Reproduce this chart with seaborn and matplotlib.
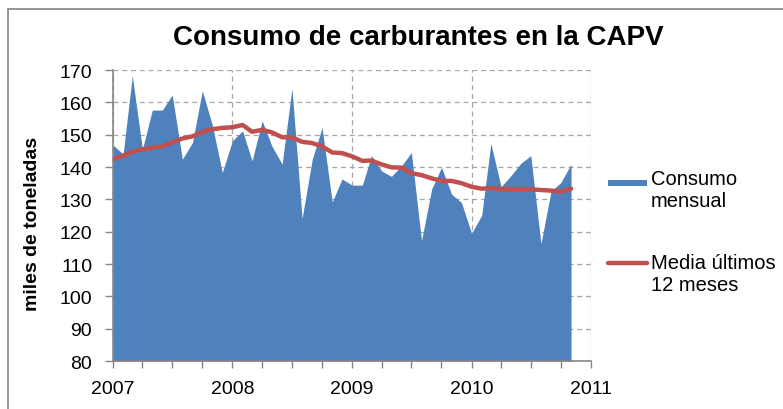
import numpy as np
import pandas as pd
import matplotlib
matplotlib.use("Agg")
import matplotlib.pyplot as plt
import matplotlib.dates as mdates
from matplotlib.legend_handler import HandlerPatch, HandlerLine2D
from matplotlib.lines import Line2D
import seaborn as sns

# ---- datos (miles de toneladas), ene 2007 - nov 2010 ----
meses = pd.date_range("2007-01-01", periods=47, freq="MS")

consumo_mensual = [
    146.8, 144.0, 168.2, 145.5, 157.6, 157.6, 162.3, 142.4, 147.6, 163.6, 152.8, 138.3,
    148.1, 151.2, 141.9, 154.3, 146.4, 140.9, 164.3, 124.1, 142.4, 152.2, 129.2, 136.3,
    134.4, 134.4, 143.5, 138.8, 137.1, 140.4, 144.5, 117.2, 133.2, 139.9, 131.6, 129.0,
    119.5, 125.1, 147.3, 133.9, 137.3, 141.2, 143.5, 116.3, 132.6, 135.2, 140.9,
]

media_12_meses = [
    142.4, 143.5, 144.7, 145.5, 146.0, 146.4, 147.6, 148.8, 149.5, 150.9, 151.7, 152.1,
    152.3, 153.0, 150.9, 151.5, 150.7, 149.2, 149.2, 147.8, 147.4, 146.4, 144.5, 144.3,
    143.3, 141.9, 142.0, 140.8, 139.9, 139.8, 138.1, 137.5, 136.5, 135.7, 135.7, 135.0,
    133.9, 133.3, 133.5, 133.2, 133.2, 133.2, 133.1, 132.9, 132.7, 132.4, 133.3,
]

df = pd.DataFrame({"fecha": meses, "consumo": consumo_mensual, "media": media_12_meses})

sns.set_theme(style="white")
plt.rcParams["font.family"] = ["Liberation Sans", "DejaVu Sans"]
plt.rcParams["text.color"] = "black"
plt.rcParams["axes.labelcolor"] = "black"

AZUL = "#4f81bd"
ROJO = "#c0504d"

fig = plt.figure(figsize=(7.83, 4.10), dpi=100)
ax = fig.add_axes([0.1443, 0.117, 0.6105, 0.7098])

# marco del gráfico (recortado a la derecha y abajo, como en la captura)
fig.add_artist(Line2D([8 / 783, 1], [1 - 10 / 410] * 2, transform=fig.transFigure,
                      color="#8c8c8c", lw=1.3))
fig.add_artist(Line2D([8 / 783] * 2, [0, 1 - 10 / 410], transform=fig.transFigure,
                      color="#8c8c8c", lw=1.3))

y_min = 80
ax.fill_between(df["fecha"], df["consumo"], y_min, color=AZUL, lw=0,
                label="Consumo\nmensual", zorder=2)
sns.lineplot(data=df, x="fecha", y="media", ax=ax, color=ROJO, lw=3.2,
             label="Media últimos\n12 meses", zorder=3)

ax.set_xlim(pd.Timestamp("2007-01-01"), pd.Timestamp("2011-01-01"))
ax.set_ylim(80, 170)
ax.set_yticks(range(80, 171, 10))
ax.xaxis.set_major_locator(mdates.YearLocator())
ax.xaxis.set_major_formatter(mdates.DateFormatter("%Y"))
ax.xaxis.set_minor_locator(mdates.MonthLocator(bymonth=[1, 4, 7, 10]))

ax.grid(True, which="major", color="#a6a6a6", ls=(0, (4, 3)), lw=0.9, zorder=0)
ax.tick_params(axis="both", which="both", direction="out", color="#868686",
               labelsize=14, labelcolor="black")
ax.tick_params(axis="x", which="major", length=5, width=1, pad=9)
ax.tick_params(axis="x", which="minor", length=5, width=1)
ax.tick_params(axis="y", length=6, width=1, pad=9)
ax.xaxis.set_ticks_position("bottom")
ax.yaxis.set_ticks_position("left")

for side in ["top", "right"]:
    ax.spines[side].set_visible(False)
for side in ["left", "bottom"]:
    ax.spines[side].set_color("#868686")
    ax.spines[side].set_linewidth(1.2)

ax.set_xlabel("")
ax.set_ylabel("miles de toneladas", fontsize=14, fontweight="bold")
ax.yaxis.set_label_coords(-0.15, 0.474)
fig.text(0.534, 0.907, "Consumo de carburantes en la CAPV", ha="center", va="center",
         fontsize=20, fontweight="bold", color="black")


# en Excel el símbolo de la leyenda queda a la altura de la primera línea
def subir_patch(handle, orig):
    handle.set_facecolor(AZUL)
    handle.set_linewidth(0)
    handle.set_height(4.5)
    handle.set_y(handle.get_y() + 8)


def subir_linea(handle, orig):
    handle.update_from(orig)
    handle.set_ydata(np.asarray(handle.get_ydata()) + 8)


h, l = ax.get_legend_handles_labels()
ax.legend(h, l, loc="center left", bbox_to_anchor=(1.035, 0.445), frameon=False,
          fontsize=14.5, handlelength=1.95, labelspacing=2.1, handletextpad=0.2,
          borderpad=0, borderaxespad=0,
          handler_map={type(h[0]): HandlerPatch(update_func=subir_patch),
                       type(h[1]): HandlerLine2D(update_func=subir_linea)})

fig.savefig("out.png", dpi=100)
